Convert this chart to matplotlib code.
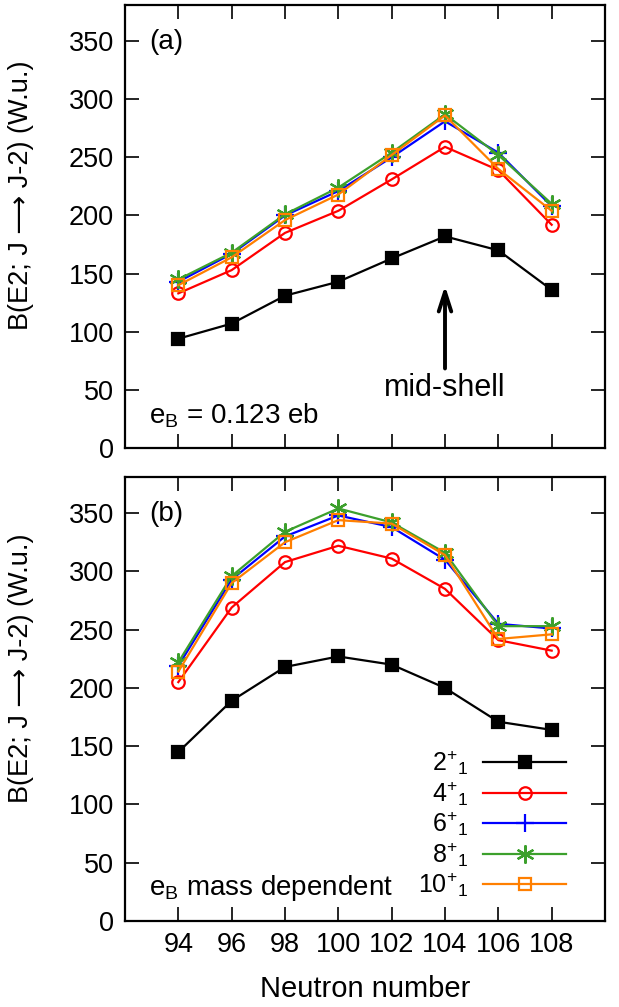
import matplotlib.pyplot as plt

plt.rcParams['font.family'] = ['Liberation Sans', 'DejaVu Sans']
plt.rcParams['mathtext.fontset'] = 'custom'
plt.rcParams['mathtext.rm'] = 'Liberation Sans'
plt.rcParams['mathtext.it'] = 'Liberation Sans'

# neutron numbers
N = [94, 96, 98, 100, 102, 104, 106, 108]

# (a) e_B = 0.123 eb
a_2 = [94, 107, 131, 143, 163, 182, 170, 136]
a_4 = [133, 153, 185, 204, 231, 259, 239, 192]
a_6 = [143, 167, 200, 221, 250, 281, 254, 208]
a_8 = [145, 168, 201, 224, 254, 287, 252, 210]
a_10 = [140, 164, 196, 218, 252, 286, 240, 204]

# (b) e_B mass dependent
b_2 = [145, 189, 218, 227, 220, 200, 171, 164]
b_4 = [205, 269, 308, 322, 311, 285, 241, 232]
b_6 = [219, 293, 330, 348, 338, 310, 255, 251]
b_8 = [222, 296, 334, 354, 342, 316, 253, 253]
b_10 = [214, 290, 325, 344, 341, 314, 242, 246]

labels = [r'2$^{+}{}_{1}$', r'4$^{+}{}_{1}$', r'6$^{+}{}_{1}$', r'8$^{+}{}_{1}$', r'10$^{+}{}_{1}$']
colors = ['black', '#ff0000', '#0000ff', '#3ca02c', '#ff7f00']
markers = ['s', 'o', '+', '*', 's']

ylabel = 'B(E2; J \u27f6 J-2) (W.u.)'

fig = plt.figure(figsize=(6.19, 10.07), dpi=100)
ax1 = fig.add_axes([125/619, 1 - 448/1007, 480/619, 443/1007])
ax2 = fig.add_axes([125/619, 1 - 921/1007, 480/619, 444/1007])


def draw(ax, series):
    for y, lab, c, m in zip(series, labels, colors, markers):
        filled = (lab == labels[0])
        ms = {'s': 9, 'o': 9, '+': 13, '*': 13}[m]
        if m == 's' and not filled:
            ms = 8.5
        if m == '*':
            m = (6, 2, 0)
        ax.plot(N, y, color=c, lw=1.6, marker=m, ms=ms,
                mfc=c if filled else 'none', mec=c, mew=1.6, label=lab)
    ax.set_xlim(92, 110)
    ax.set_ylim(0, 381)
    ax.set_xticks(N)
    ax.set_yticks(range(0, 351, 50))
    ax.tick_params(direction='in', length=10, width=1.2, top=True, right=True,
                   labelsize=19.5, pad=8)
    for s in ax.spines.values():
        s.set_linewidth(1.6)
    ax.set_ylabel(ylabel, fontsize=19.5)
    ax.yaxis.set_label_coords(-0.19, 0.57)


draw(ax1, [a_2, a_4, a_6, a_8, a_10])
draw(ax2, [b_2, b_4, b_6, b_8, b_10])
ax1.tick_params(labelbottom=False)

ax1.text(0.05, 0.945, '(a)', transform=ax1.transAxes, fontsize=20, va='top')
ax2.text(0.05, 0.945, '(b)', transform=ax2.transAxes, fontsize=20, va='top')
ax1.text(0.05, 0.04, r'e$_{\mathrm{B}}$ = 0.123 eb', transform=ax1.transAxes,
         fontsize=20, va='bottom')
ax2.text(0.05, 0.04, r'e$_{\mathrm{B}}$ mass dependent', transform=ax2.transAxes,
         fontsize=20, va='bottom')

ax1.annotate('', xy=(104, 142), xytext=(104, 66),
             arrowprops=dict(arrowstyle='->,head_length=1.4,head_width=0.45',
                             lw=2.8, color='black'))
ax1.text(104, 52, 'mid-shell', fontsize=22, ha='center', va='center')

ax2.legend(loc='lower right', bbox_to_anchor=(0.955, 0.01), frameon=False,
           markerfirst=False, handlelength=3.3, fontsize=18, labelspacing=0.08,
           handletextpad=0.6, borderaxespad=0.3)

ax2.set_xlabel('Neutron number', fontsize=21, labelpad=12)

fig.savefig('out.png', dpi=100)
